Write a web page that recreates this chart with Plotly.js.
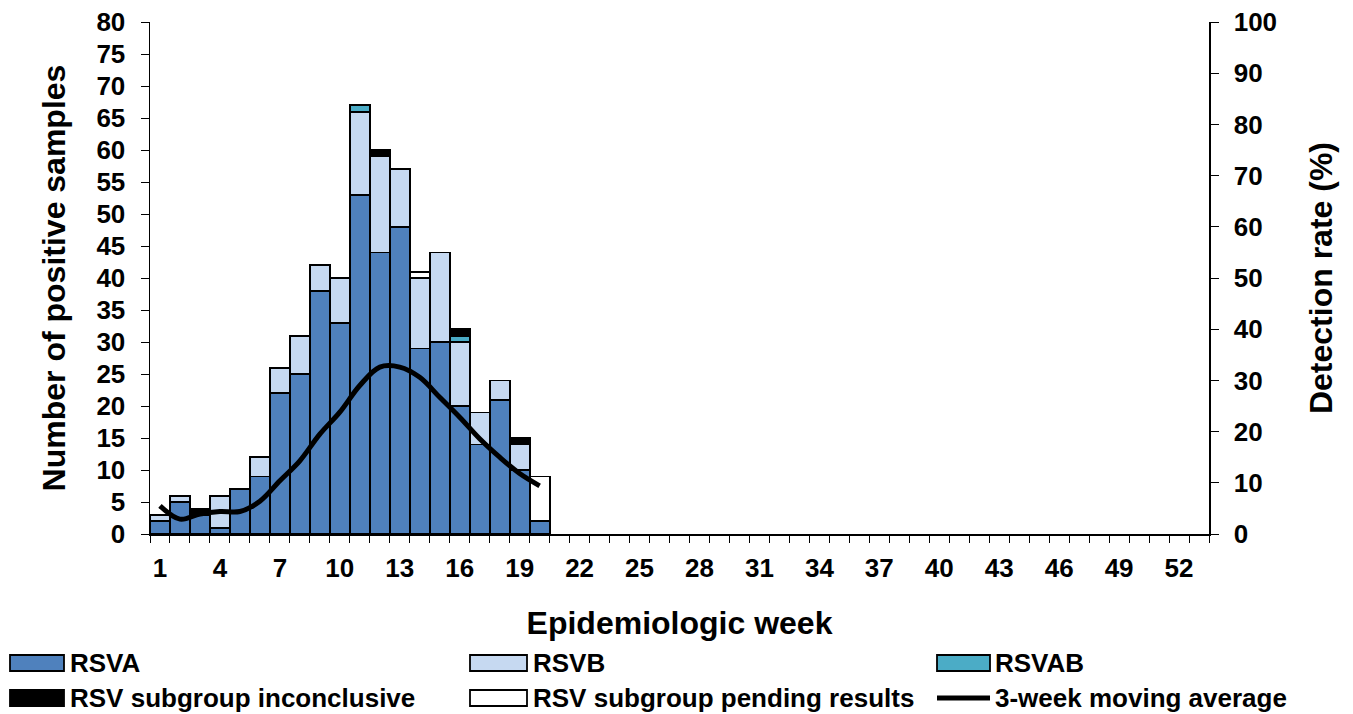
<!DOCTYPE html>
<html>
<head>
<meta charset="utf-8">
<script src="https://cdn.plot.ly/plotly-3.0.1.min.js"></script>
<style>
  html, body { margin: 0; padding: 0; background: #fff; }
  #chart { width: 1353px; height: 714px; }
</style>
</head>
<body>
<div id="chart"></div>
<script>
// epidemiologic weeks with data (1..20); axis runs to week 53
var weeks = [1,2,3,4,5,6,7,8,9,10,11,12,13,14,15,16,17,18,19,20];
var rsvA        = [2,5,3,1,7,9,22,25,38,33,53,44,48,29,30,20,14,21,10,2];
var rsvB        = [1,1,0,5,0,3,4,6,4,7,13,15,9,11,14,10,5,3,4,0];
var rsvAB       = [0,0,0,0,0,0,0,0,0,0,1,0,0,0,0,1,0,0,0,0];
var inconclusive= [0,0,1,0,0,0,0,0,0,0,0,1,0,0,0,1,0,0,1,0];
var pending     = [0,0,0,0,0,0,0,0,0,0,0,0,0,1,0,0,0,0,0,7];
var movingAvg   = [5.5,2.9,3.9,4.4,4.4,6.4,10.4,14.3,19.5,23.8,29,32.6,32.6,30.6,26.7,22.8,18.6,15,11.8,9.4];
var weekTicks   = [1,4,7,10,13,16,19,22,25,28,31,34,37,40,43,46,49,52];

var seriesNames = ['RSVA','RSVB','RSVAB','RSV subgroup inconclusive','RSV subgroup pending results','3-week moving average'];
var seriesColors = ['#4F81BD','#C6D9F1','#4BACC6','#000000','#FFFFFF','#000000'];

var font = 'Liberation Sans, Arial, sans-serif';
var outline = { color: '#000', width: 1.8 };

var barValues = [rsvA, rsvB, rsvAB, inconclusive, pending];
var traces = barValues.map(function (vals, i) {
  return {
    type: 'bar', x: weeks, y: vals, name: seriesNames[i], width: 1,
    marker: { color: seriesColors[i], line: outline },
    showlegend: false, hoverinfo: 'x+y+name'
  };
});
traces.push({
  type: 'scatter', mode: 'lines', x: weeks, y: movingAvg, yaxis: 'y2',
  name: seriesNames[5], line: { color: '#000', width: 5, shape: 'spline', smoothing: 1 },
  showlegend: false
});

// plot area in pixels, used to place the hand-made legend
var W = 1353, H = 714, mL = 150, mR = 144, mT = 22, mB = 180;
var pw = W - mL - mR, ph = H - mT - mB;
function px(x) { return (x - mL) / pw; }
function py(y) { return (H - mB - y) / ph; }

var shapes = [], annotations = [];
var cols = [[10, 64, 68], [470, 527, 531], [937, 990, 993]];
var rows = [663, 698];
seriesNames.forEach(function (name, i) {
  var c = cols[i % 3], r = rows[Math.floor(i / 3)];
  if (i === 5) {
    shapes.push({ type: 'line', xref: 'paper', yref: 'paper', x0: px(c[0]), x1: px(c[1]),
      y0: py(r), y1: py(r), line: { color: '#000', width: 5 } });
  } else {
    shapes.push({ type: 'rect', xref: 'paper', yref: 'paper', x0: px(c[0]), x1: px(c[1]),
      y0: py(r + 8), y1: py(r - 8), fillcolor: seriesColors[i], line: { color: '#000', width: 1.8 } });
  }
  annotations.push({ xref: 'paper', yref: 'paper', x: px(c[2]), y: py(r), xanchor: 'left', yanchor: 'middle',
    text: name, showarrow: false, font: { family: font, size: 26, color: '#000', weight: 'bold' } });
});

var tickFont = { family: font, size: 26, color: '#000', weight: 'bold' };
var titleFont = { family: font, size: 32, color: '#000', weight: 'bold' };

var layout = {
  width: W, height: H,
  margin: { l: mL, r: mR, t: mT, b: mB },
  barmode: 'stack', bargap: 0,
  paper_bgcolor: '#fff', plot_bgcolor: '#fff',
  font: { family: font },
  xaxis: {
    range: [0.5, 53.5], tickvals: weekTicks, ticks: '', ticklen: 0, ticklabelstandoff: 10,
    tickfont: tickFont, showgrid: false, zeroline: false,
    showline: true, linecolor: '#000', linewidth: 1.5,
    minor: { tick0: 0.5, dtick: 1, ticks: 'outside', ticklen: 7, tickcolor: '#000', tickwidth: 1, showgrid: false },
    title: { text: 'Epidemiologic week', font: titleFont, standoff: 30 }
  },
  yaxis: {
    range: [0, 80], dtick: 5, ticks: 'outside', ticklen: 8, tickcolor: '#000', tickwidth: 1,
    ticklabelstandoff: 10,
    tickfont: tickFont, showgrid: false, zeroline: false,
    showline: true, linecolor: '#000', linewidth: 1.5,
    title: { text: 'Number of positive samples', font: titleFont, standoff: 21 }
  },
  yaxis2: {
    overlaying: 'y', side: 'right', range: [0, 100], dtick: 10,
    ticks: 'outside', ticklen: 8, tickcolor: '#000', tickwidth: 1, ticklabelstandoff: 10,
    tickfont: tickFont, showgrid: false, zeroline: false,
    showline: true, linecolor: '#000', linewidth: 1.5,
    title: { text: 'Detection rate (%)', font: titleFont, standoff: 33 }
  },
  shapes: shapes,
  annotations: annotations
};

Plotly.newPlot('chart', traces, layout, { displayModeBar: false, staticPlot: true });
</script>
</body>
</html>
